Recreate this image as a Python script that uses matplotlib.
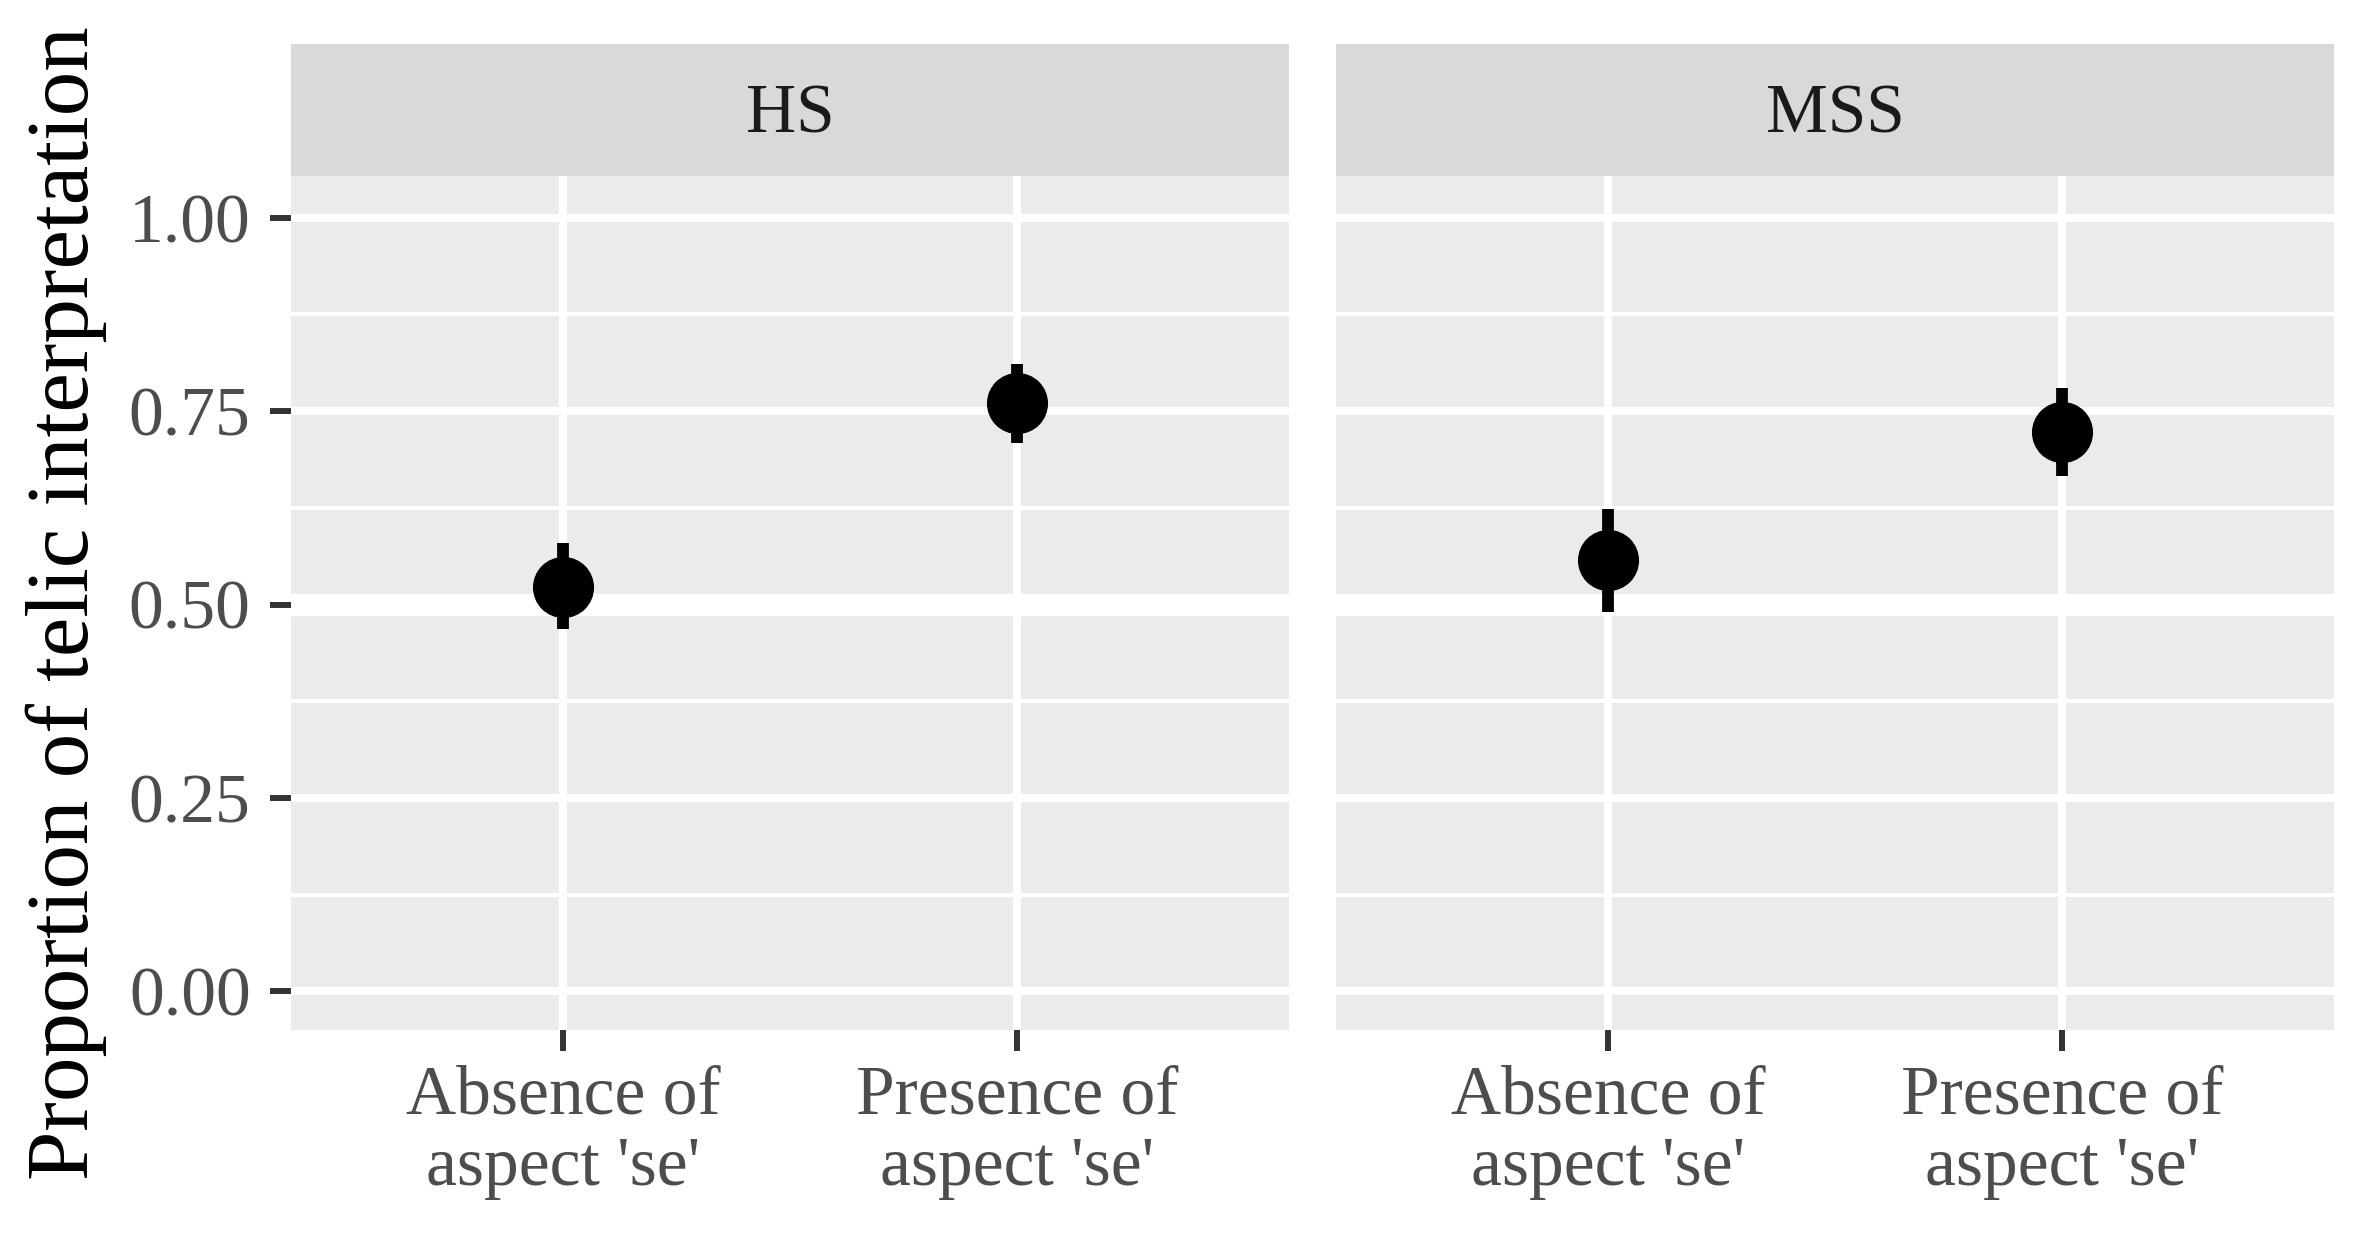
import matplotlib
matplotlib.use("Agg")
import matplotlib.pyplot as plt
import numpy as np

# ---- data ----
groups = ["HS", "MSS"]
conditions = ["Absence of\naspect 'se'", "Presence of\naspect 'se'"]
means = {"HS": [0.523, 0.761], "MSS": [0.558, 0.723]}
lower = {"HS": [0.468, 0.709], "MSS": [0.491, 0.666]}
upper = {"HS": [0.580, 0.811], "MSS": [0.624, 0.780]}
yticks = [0.00, 0.25, 0.50, 0.75, 1.00]
ytick_labels = ["0.00", "0.25", "0.50", "0.75", "1.00"]
ylabel = "Proportion of telic interpretation"

W, H = 2365, 1233
DPI = 100
plt.rcParams['font.family'] = ['Liberation Serif', 'DejaVu Serif']

fig = plt.figure(figsize=(W / DPI, H / DPI), dpi=DPI)
fig.patch.set_facecolor("white")

panel_x = [291, 1336]
panel_w = 998
panel_top, panel_bot = 176, 1030
strip_top = 44

TICK_FS = 50
TITLE_FS = 64

for i, g in enumerate(groups):
    ax = fig.add_axes([panel_x[i] / W, (H - panel_bot) / H, panel_w / W, (panel_bot - panel_top) / H])
    ax.set_facecolor("#EBEBEB")
    for s in ax.spines.values():
        s.set_visible(False)
    ax.set_xlim(0.4, 2.6)
    ax.set_ylim(-0.05, 1.054)
    ax.set_yticks(yticks)
    ax.set_yticks([0.125, 0.375, 0.625, 0.875], minor=True)
    ax.set_xticks([1, 2])
    ax.grid(which="major", color="white", linewidth=5.8, zorder=0)
    ax.grid(which="minor", axis="y", color="white", linewidth=2.9, zorder=0)
    ax.set_axisbelow(True)
    ax.axhline(0.5, color="white", linewidth=16, zorder=1)
    x = np.arange(1, len(conditions) + 1)
    m = np.array(means[g]); lo = np.array(lower[g]); hi = np.array(upper[g])
    ax.vlines(x, lo, hi, color="black", linewidth=8.5, zorder=3)
    ax.plot(x, m, "o", color="black", markersize=44, markeredgewidth=0, zorder=4)
    ax.set_xticklabels(conditions, fontsize=TICK_FS, color="#4D4D4D", linespacing=1.17)
    ax.tick_params(axis="x", which="major", length=15, width=4.3, color="#333333", pad=10)
    ax.tick_params(axis="y", which="minor", length=0)
    if i == 0:
        ax.set_yticklabels(ytick_labels, fontsize=TICK_FS, color="#4D4D4D")
        ax.tick_params(axis="y", which="major", length=15, width=4.3, color="#333333", pad=14)
        ax.set_ylabel(ylabel, fontsize=TITLE_FS, color="black", labelpad=16)
    else:
        ax.tick_params(axis="y", which="major", length=0, labelleft=False)

    sax = fig.add_axes([panel_x[i] / W, (H - panel_top) / H, panel_w / W, (panel_top - strip_top) / H])
    sax.set_facecolor("#D9D9D9")
    for s in sax.spines.values():
        s.set_visible(False)
    sax.set_xticks([]); sax.set_yticks([])
    sax.text(0.5, 0.46, g, ha="center", va="center", fontsize=TICK_FS, color="#1A1A1A",
             transform=sax.transAxes)

fig.savefig("out.png", dpi=DPI)
